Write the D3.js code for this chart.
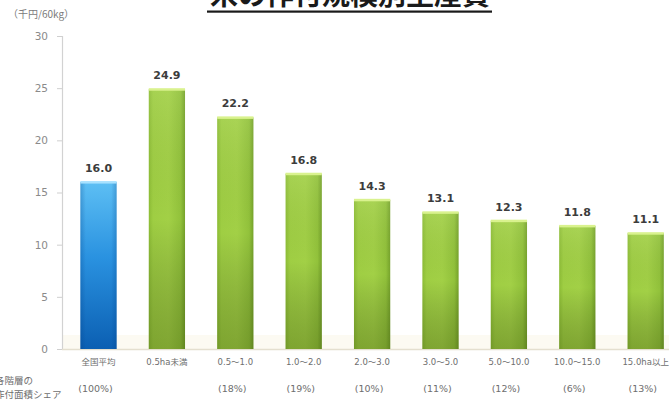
<!DOCTYPE html>
<html>
<head>
<meta charset="utf-8">
<script src="https://cdn.jsdelivr.net/npm/d3@7/dist/d3.min.js"></script>
<style>
  html, body { margin: 0; padding: 0; background: #fff; overflow: hidden; }
  svg { display: block; }
</style>
</head>
<body>
<svg id="chart" width="669" height="402"></svg>
<script>
// Production cost of rice by planting scale (thousand yen per 60kg)
const categories = ["全国平均", "0.5ha未満", "0.5～1.0", "1.0～2.0", "2.0～3.0", "3.0～5.0", "5.0～10.0", "10.0～15.0", "15.0ha以上"];
const costs = [16.0, 24.9, 22.2, 16.8, 14.3, 13.1, 12.3, 11.8, 11.1];
// Share of planted area held by each scale class (%)
const shares = [100, null, 18, 19, 10, 11, 12, 6, 13];
const yTicks = [0, 5, 10, 15, 20, 25, 30];

const title = "米の作付規模別生産費";
const unitLabel = "（千円/60kg）";
const shareLabelLines = ["各階層の", "作付面積シェア"];

const svg = d3.select("#chart");
const W = 669, H = 402;

const x = d3.scaleBand()
  .domain(categories)
  .range([64.3, 679.9])
  .paddingInner(0.47)
  .paddingOuter(0.235);

const y = d3.scaleLinear().domain([0, 30]).range([349, 36]);

const defs = svg.append("defs");

// green bars: lighter face, darker right edge and base
const gH = defs.append("linearGradient").attr("id", "greenH").attr("x1", 0).attr("x2", 1).attr("y1", 0).attr("y2", 0);
gH.append("stop").attr("offset", 0).attr("stop-color", "#8dbd36");
gH.append("stop").attr("offset", 0.12).attr("stop-color", "#9fce43");
gH.append("stop").attr("offset", 0.55).attr("stop-color", "#a2d046");
gH.append("stop").attr("offset", 0.88).attr("stop-color", "#92c23b");
gH.append("stop").attr("offset", 1).attr("stop-color", "#76a32b");

const gV = defs.append("linearGradient").attr("id", "greenV").attr("x1", 0).attr("x2", 0).attr("y1", 0).attr("y2", 1);
gV.append("stop").attr("offset", 0).attr("stop-color", "#ffffff").attr("stop-opacity", 0.08);
gV.append("stop").attr("offset", 0.5).attr("stop-color", "#000000").attr("stop-opacity", 0.0);
gV.append("stop").attr("offset", 1).attr("stop-color", "#2a3a00").attr("stop-opacity", 0.28);

// blue bar for the national average
const bV = defs.append("linearGradient").attr("id", "blueV").attr("x1", 0).attr("x2", 0).attr("y1", 0).attr("y2", 1);
bV.append("stop").attr("offset", 0).attr("stop-color", "#5dbff4");
bV.append("stop").attr("offset", 0.45).attr("stop-color", "#2a92e0");
bV.append("stop").attr("offset", 1).attr("stop-color", "#0b5fb2");

const bH = defs.append("linearGradient").attr("id", "blueH").attr("x1", 0).attr("x2", 1).attr("y1", 0).attr("y2", 0);
bH.append("stop").attr("offset", 0).attr("stop-color", "#003a80").attr("stop-opacity", 0.25);
bH.append("stop").attr("offset", 0.15).attr("stop-color", "#003a80").attr("stop-opacity", 0.0);
bH.append("stop").attr("offset", 0.85).attr("stop-color", "#003a80").attr("stop-opacity", 0.0);
bH.append("stop").attr("offset", 1).attr("stop-color", "#003a80").attr("stop-opacity", 0.25);

// floor strip along the category axis
svg.append("rect")
  .attr("x", 62).attr("y", y(0) - 14)
  .attr("width", W - 62).attr("height", 14)
  .attr("fill", "#fcfaf2");

// title
svg.append("text")
  .attr("x", 350).attr("y", 5)
  .attr("text-anchor", "middle")
  .attr("font-family", "'Noto Sans CJK JP', sans-serif")
  .attr("font-weight", "bold")
  .attr("font-size", 28)
  .attr("fill", "#1a1a1a")
  .text(title);
svg.append("rect")
  .attr("x", 207).attr("y", 10.5).attr("width", 285).attr("height", 2.2)
  .attr("fill", "#1a1a1a");

// unit label
svg.append("text")
  .attr("x", 8).attr("y", 18)
  .attr("font-family", "'Noto Sans CJK JP', sans-serif")
  .attr("font-size", 10)
  .attr("fill", "#7a7a7a")
  .text(unitLabel);

// y axis
const yAxis = d3.axisLeft(y).tickValues(yTicks).tickSize(5).tickPadding(9).tickFormat(d3.format("d"));
const yg = svg.append("g").attr("transform", "translate(62,0)").call(yAxis);
yg.select(".domain").attr("stroke", "#d2d2d2").attr("stroke-width", 1.2);
yg.selectAll(".tick line").attr("stroke", "#cfcfcf");
yg.selectAll(".tick text")
  .attr("font-family", "'DejaVu Sans', sans-serif")
  .attr("font-size", 10.5)
  .attr("fill", "#8a8a8a");

// baseline
svg.append("line")
  .attr("x1", 62).attr("x2", W)
  .attr("y1", y(0) + 0.5).attr("y2", y(0) + 0.5)
  .attr("stroke", "#e4dfcf").attr("stroke-width", 1.5);

// bars
const bars = svg.append("g").selectAll("g.bar")
  .data(categories.map((c, i) => ({ c, v: costs[i], i })))
  .join("g").attr("class", "bar");

bars.append("rect")
  .attr("x", d => x(d.c))
  .attr("y", d => y(d.v))
  .attr("width", x.bandwidth())
  .attr("height", d => y(0) - y(d.v))
  .attr("fill", d => d.i === 0 ? "url(#blueV)" : "url(#greenH)");

bars.append("rect")
  .attr("x", d => x(d.c))
  .attr("y", d => y(d.v))
  .attr("width", x.bandwidth())
  .attr("height", d => y(0) - y(d.v))
  .attr("fill", d => d.i === 0 ? "url(#blueH)" : "url(#greenV)");

// light top edge
bars.append("rect")
  .attr("x", d => x(d.c))
  .attr("y", d => y(d.v) - 1)
  .attr("width", x.bandwidth())
  .attr("height", 2.5)
  .attr("fill", d => d.i === 0 ? "#a8e2ff" : "#d9f28e");

// value labels
bars.append("text")
  .attr("x", d => x(d.c) + x.bandwidth() / 2)
  .attr("y", d => y(d.v) - 10)
  .attr("text-anchor", "middle")
  .attr("font-family", "'DejaVu Sans', sans-serif")
  .attr("font-weight", "bold")
  .attr("font-size", 11)
  .attr("fill", "#3c3c3c")
  .text(d => d3.format(".1f")(d.v));

// category labels
svg.append("g").selectAll("text.cat")
  .data(categories)
  .join("text").attr("class", "cat")
  .attr("x", d => x(d) + x.bandwidth() / 2)
  .attr("y", 365)
  .attr("text-anchor", "middle")
  .attr("font-family", "'DejaVu Sans', 'Noto Sans CJK JP', sans-serif")
  .attr("font-size", 8.5)
  .attr("fill", "#6e6e6e")
  .text(d => d);

// share labels
svg.append("g").selectAll("text.share")
  .data(categories.map((c, i) => ({ c, s: shares[i] })).filter(d => d.s !== null))
  .join("text").attr("class", "share")
  .attr("x", d => x(d.c) + x.bandwidth() / 2 - 3)
  .attr("y", 392)
  .attr("text-anchor", "middle")
  .attr("font-family", "'DejaVu Sans', 'Noto Sans CJK JP', sans-serif")
  .attr("font-size", 9.5)
  .attr("fill", "#6e6e6e")
  .text(d => "(" + d.s + "%)");

// row caption for the share line
svg.append("g").selectAll("text.cap")
  .data(shareLabelLines)
  .join("text").attr("class", "cap")
  .attr("x", -5)
  .attr("y", (d, i) => 384 + i * 14)
  .attr("font-family", "'Noto Sans CJK JP', sans-serif")
  .attr("font-size", 9.5)
  .attr("fill", "#6e6e6e")
  .text(d => d);
</script>
</body>
</html>
